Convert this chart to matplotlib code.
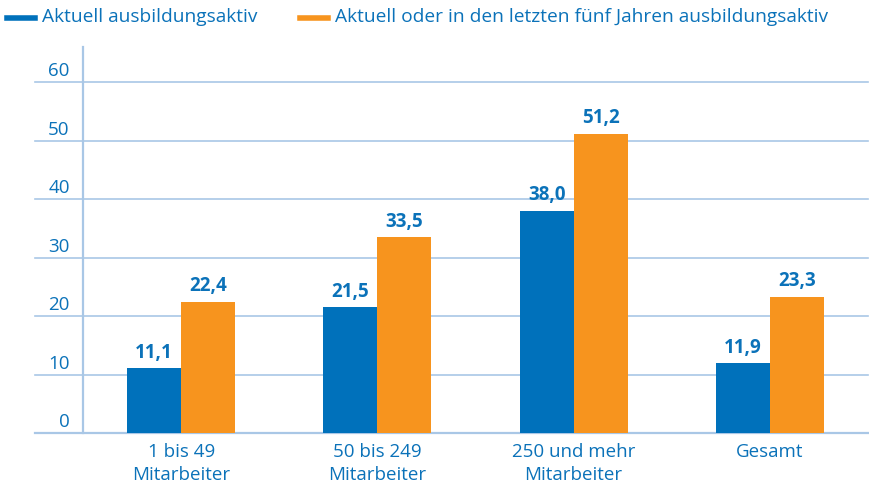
import matplotlib
matplotlib.use("Agg")
from matplotlib import pyplot as plt
from matplotlib.lines import Line2D
import matplotlib.transforms as mtransforms
import numpy as np

# data
categories = ["1 bis 49\nMitarbeiter", "50 bis 249\nMitarbeiter", "250 und mehr\nMitarbeiter", "Gesamt"]
aktuell = [11.1, 21.5, 38.0, 11.9]
fuenf_jahre = [22.4, 33.5, 51.2, 23.3]
yticks = [0, 10, 20, 30, 40, 50, 60]
series_names = ["Aktuell ausbildungsaktiv", "Aktuell oder in den letzten fünf Jahren ausbildungsaktiv"]

blue = "#0071BB"
orange = "#F7941E"
grid = "#A9C7E6"
text_blue = "#0B72B9"

plt.rcParams['font.family'] = ['Open Sans', 'DejaVu Sans']
fs = 13.5

fig = plt.figure(figsize=(8.7, 4.88), dpi=100)
ax = fig.add_axes([83 / 870, 55 / 488, 785 / 870, 386 / 488])

x = np.arange(len(categories))
w = 0.275
b1 = ax.bar(x - w / 2, aktuell, w, color=blue, zorder=3)
b2 = ax.bar(x + w / 2, fuenf_jahre, w, color=orange, zorder=3)

ax.set_xlim(-0.5, 3.5)
ax.set_ylim(0, 66)

# gridlines reaching left past the y axis
for v in yticks:
    ax.plot([-0.061, 1.0], [v, v], transform=ax.get_yaxis_transform(),
            color=grid, lw=1.6 if v == 0 else 1.2, clip_on=False, zorder=1)
trans = mtransforms.blended_transform_factory(ax.transAxes, ax.transData)
for v in yticks:
    ax.text(-0.017, v + 0.3, str(v), transform=trans, ha="right", va="bottom",
            color=text_blue, fontsize=fs)

for s in ["top", "right", "bottom"]:
    ax.spines[s].set_visible(False)
ax.spines["left"].set_color(grid)
ax.spines["left"].set_linewidth(1.6)
ax.set_yticks([])
ax.set_xticks(x)
ax.set_xticklabels(categories, color=text_blue, fontsize=fs, linespacing=1.4)
ax.tick_params(axis="x", length=0, pad=7)

for bars, vals in [(b1, aktuell), (b2, fuenf_jahre)]:
    for bar, v in zip(bars, vals):
        ax.annotate(f"{v:.1f}".replace(".", ","),
                    (bar.get_x() + bar.get_width() / 2, v),
                    xytext=(0, 4), textcoords="offset points",
                    ha="center", va="bottom", color=text_blue,
                    fontsize=fs, fontweight="bold")

# legend drawn by hand at the top
for x0, label, col in [(7, series_names[0], blue), (300, series_names[1], orange)]:
    fig.add_artist(Line2D([x0 / 870, (x0 + 28) / 870], [1 - 18 / 488, 1 - 18 / 488],
                          color=col, lw=4, transform=fig.transFigure))
    fig.text((x0 + 35) / 870, 1 - 17 / 488, label, color=text_blue,
             fontsize=13.8, va="center", ha="left")

fig.savefig("out.png", dpi=100)
